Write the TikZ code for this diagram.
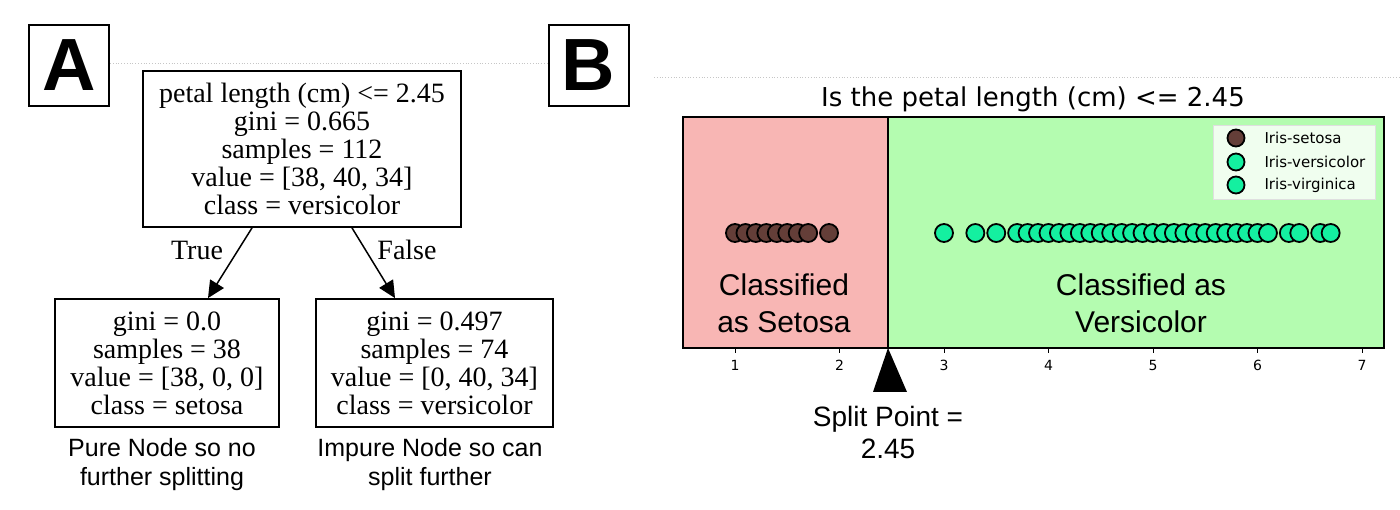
\documentclass[tikz,border=0pt]{standalone}
\usepackage{fontspec}
\setmainfont{Liberation Serif}
\newfontfamily\capfont{Liberation Sans}
\newfontfamily\pltfont{DejaVu Sans}
\usetikzlibrary{arrows.meta}
\definecolor{setred}{RGB}{248,182,180}
\definecolor{vergreen}{RGB}{180,252,176}
\definecolor{dotgreen}{RGB}{20,240,160}
\definecolor{dotbrown}{RGB}{100,62,56}
\begin{document}
\begin{tikzpicture}[x=1pt,y=-1pt,
  treenode/.style={draw=black,line width=1.8pt,align=center,inner sep=0pt,font=\fontsize{28}{28}\selectfont},
  edgelab/.style={font=\fontsize{28}{28}\selectfont},
  capt/.style={align=center,font=\capfont\fontsize{25}{29}\selectfont},
  panel/.style={draw=black,line width=2pt,minimum width=80pt,minimum height=81pt,inner sep=0pt,font=\capfont\bfseries\fontsize{74}{74}\selectfont},
  arr/.style={line width=1.5pt,-{Triangle[length=17pt,width=16pt]}},
  guide/.style={draw=gray!45,dotted,line width=0.8pt},
  greendot/.style={fill=dotgreen,draw=black,line width=1.8pt},
  browndot/.style={fill=dotbrown,draw=black,line width=1.8pt},
  regiontext/.style={align=center,font=\capfont\fontsize{30}{37}\selectfont},
  ticklab/.style={font=\pltfont\fontsize{14}{16}\selectfont},
  legtext/.style={anchor=west,font=\pltfont\fontsize{15}{17}\selectfont}
]
\useasboundingbox (0,0) rectangle (1400,510);
\fill[white] (0,0) rectangle (1400,510);

% panel letters
\node[panel] (A) at (69,65.5) {A};
\node[panel] (B) at (588.5,65.5) {B};
\draw[guide] ([yshift=2.5pt]A.east) -- ([yshift=2.5pt]B.west);
\coordinate (gB1) at (654,77);
\coordinate (gB2) at (1400,77);
\draw[guide] (gB1) -- (gB2);

% tree
\node[treenode,minimum width=318pt,minimum height=156pt] (root) at (302,149)
  {petal length (cm) <= 2.45\\gini = 0.665\\samples = 112\\value = [38, 40, 34]\\class = versicolor};
\node[treenode,minimum width=224pt,minimum height=128pt] (left) at (167,363)
  {gini = 0.0\\samples = 38\\value = [38, 0, 0]\\class = setosa};
\node[treenode,minimum width=237pt,minimum height=128pt] (right) at (434.5,363)
  {gini = 0.497\\samples = 74\\value = [0, 40, 34]\\class = versicolor};
\draw[arr] ([xshift=-50pt]root.south) -- ([xshift=41pt]left.north);
\draw[arr] ([xshift=50pt]root.south) -- ([xshift=-39.5pt]right.north);
\node[edgelab] (tl) at (197,250) {True};
\node[edgelab] (fl) at (407,250) {False};
\node[capt] (cl) at (162,465) {Pure Node so no\\further splitting};
\node[capt] (cr) at (430,465) {Impure Node so can\\split further};

% plot
\fill[setred] (683,117) rectangle (888,348);
\fill[vergreen] (888,117) rectangle (1384,348);
\draw[black,line width=1.5pt] (683,117) rectangle (1384,348);
\draw[black,line width=2pt] (888,117) -- (888,348);
\node[font=\pltfont\fontsize{26}{30}\selectfont] (title) at (1033,99) {Is the petal length (cm) <= 2.45};

\foreach \k in {1,...,7}{
  \draw[line width=1pt] ({735+(\k-1)*104.5},348) -- ({735+(\k-1)*104.5},353);
  \node[ticklab] at ({735+(\k-1)*104.5},365) {\k};
}

\foreach \v in {1.0,1.1,1.2,1.3,1.4,1.5,1.6,1.7,1.9}{
  \filldraw[browndot] ({735+(\v-1)*104.5},233) circle (9);
}
\foreach \v in {3.0,3.3,3.5,3.7,3.8,3.9,4.0,4.1,4.2,4.3,4.4,4.5,4.6,4.7,4.8,4.9,5.0,5.1,5.2,5.3,5.4,5.5,5.6,5.7,5.8,5.9,6.0,6.1,6.3,6.4,6.6,6.7}{
  \filldraw[greendot] ({735+(\v-1)*104.5},233) circle (9);
}

% legend
\draw[draw=gray!25,fill=white,fill opacity=0.8] (1213,125) rectangle (1375,199);
\filldraw[browndot] (1236,138) circle (8.5);
\filldraw[greendot] (1236,162) circle (8.5);
\filldraw[greendot] (1236,185) circle (8.5);
\node[legtext] (l1) at (1261,138) {Iris-setosa};
\node[legtext] (l2) at (1261,162) {Iris-versicolor};
\node[legtext] (l3) at (1261,185) {Iris-virginica};

\node[regiontext] (cs) at (784,303.5) {Classified\\as Setosa};
\node[regiontext] (cv) at (1141,303.5) {Classified as\\Versicolor};

% split marker
\fill[black] (888,348) -- (873,392) -- (907,392) -- cycle;
\node[align=center,font=\capfont\fontsize{28}{32}\selectfont] (sp) at (888,432) {Split Point =\\2.45};
\end{tikzpicture}
\end{document}
